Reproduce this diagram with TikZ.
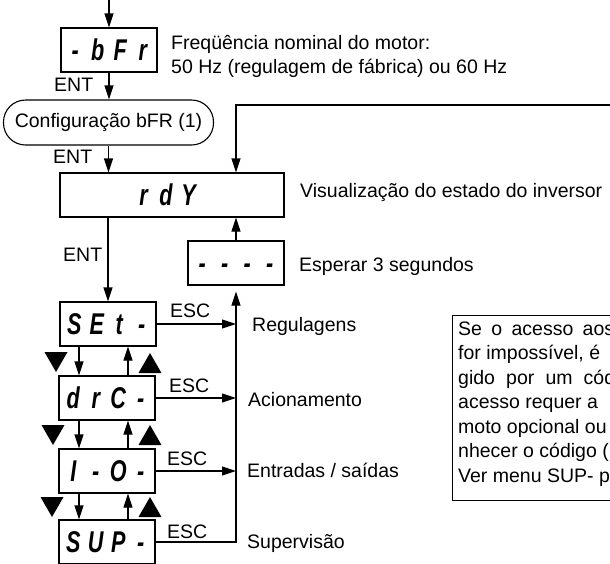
\documentclass[tikz,border=0pt]{standalone}
\usepackage{fontspec}
\setmainfont{Liberation Sans}
\usetikzlibrary{arrows.meta,calc}
\newcommand{\lblfont}{\fontsize{19.5}{24.5}\selectfont}
\newcommand{\segc}[1]{\makebox[22.5pt]{\scalebox{0.72}[1]{#1}}}
\tikzset{
  ln/.style={line width=1.1pt},
  disp/.style={draw, ln, minimum height=44pt, inner sep=0pt, text height=21pt, text depth=0pt,
    font=\fontsize{30}{30}\selectfont\bfseries\itshape},
  cfgbox/.style={draw, ln, rounded corners=22pt, minimum width=210pt, minimum height=45pt, inner sep=0pt, font=\lblfont},
  lbl/.style={anchor=base west, inner sep=0pt, font=\lblfont},
  arr/.style={ln, -{Triangle[length=14pt,width=9pt]}},
  dnkey/.pic={\fill (-11.5,-10) -- (11.5,-10) -- (0,10) -- cycle;},
  upkey/.pic={\fill (-11.5,10) -- (11.5,10) -- (0,-10) -- cycle;},
}
\begin{document}
\begin{tikzpicture}[x=1pt,y=-1pt]
\useasboundingbox (0,0) rectangle (610,563);
\clip (0,0) rectangle (610,563);

% display boxes
\node[disp, minimum width=96pt]  (bfr)  at (109,50)  {\segc{-}\segc{b}\segc{F}\segc{r}};
\node[cfgbox]                    (cfg)  at (108.5,122.5) {Configuração bFR (1)};
\node[disp, minimum width=224pt] (rdy)  at (172,195) {};
\node[disp, draw=none, minimum height=0pt] (rdyT) at (166,195) {\segc{r}\segc{d}\segc{Y}};
\node[disp, minimum width=96pt]  (dash) at (236,263) {\segc{-}\segc{-}\segc{-}\segc{-}};
\node[disp, minimum width=96pt]  (set)  at (108,324) {\segc{S}\segc{E}\segc{t}\segc{-}};
\node[disp, minimum width=96pt]  (drc)  at (107,398) {\segc{d}\segc{r}\segc{C}\segc{-}};
\node[disp, minimum width=96pt]  (io)   at (107,471) {\segc{I}\segc{-}\segc{O}\segc{-}};
\node[disp, minimum width=96pt]  (sup)  at (107,542) {\segc{S}\segc{U}\segc{P}\segc{-}};

% helper coordinates
\coordinate (top)   at (109,-5);
\coordinate (loopR) at (640,105);
\coordinate (dnx)   at (79,0);
\coordinate (upx)   at (128,0);
\coordinate (colTop) at ($(dash.south)+(0,6)$);

% main flow
\draw[arr] (top) -- (bfr.north);
\draw[arr] (bfr.south) -- (bfr.south |- cfg.north);
\draw[arr] (cfg.south) -- (cfg.south |- rdy.north);
\draw[arr] (set.north |- rdy.south) -- (set.north);
\draw[arr] (dash.north) -- (dash.north |- rdy.south);
\draw[arr] (loopR) -| (dash.north |- rdy.north);

% up/down between menus
\draw[arr] (dnx |- set.south) -- (dnx |- drc.north);
\draw[arr] (upx |- drc.north) -- (upx |- set.south);
\draw[arr] (dnx |- drc.south) -- (dnx |- io.north);
\draw[arr] (upx |- io.north) -- (upx |- drc.south);
\draw[arr] (dnx |- io.south) -- (dnx |- sup.north);
\draw[arr] (upx |- sup.north) -- (upx |- io.south);

% ESC connectors
\draw[arr] (set.east) -- (set.east -| colTop);
\draw[arr] (drc.east) -- (drc.east -| colTop);
\draw[arr] (io.east) -- (io.east -| colTop);
\draw[arr] (sup.east) -| (colTop);

% key triangles
\pic at (56,362) {dnkey};
\pic at (150,363) {upkey};
\pic at (53,435) {dnkey};
\pic at (150,435) {upkey};
\pic at (52,507) {dnkey};
\pic at (150,507) {upkey};

% labels
\node[lbl] (fq1) at (171,49) {Freqüência nominal do motor:};
\node[lbl] (fq2) at (171,73) {50 Hz (regulagem de fábrica) ou 60 Hz};
\node[lbl] (ent1) at (54,91) {ENT};
\node[lbl] (ent2) at (53,163) {ENT};
\node[lbl] (ent3) at (63,261) {ENT};
\node[lbl] (vis) at (300,197) {Visualização do estado do inversor};
\node[lbl] (esp) at (299,271) {Esperar 3 segundos};
\node[lbl] (esc1) at (170,317) {ESC};
\node[lbl] (esc2) at (169,392) {ESC};
\node[lbl] (esc3) at (167,465) {ESC};
\node[lbl] (esc4) at (167,538) {ESC};
\node[lbl] (reg) at (252,331) {Regulagens};
\node[lbl] (aci) at (248,406) {Acionamento};
\node[lbl] (ent) at (247,477) {Entradas / saídas};
\node[lbl] (spv) at (247,548) {Supervisão};

% note box
\node[draw, ln, anchor=north west, minimum width=300pt, minimum height=185pt, inner sep=0pt] (note) at (452,315) {};
\node[lbl] (n1) at (458,335) {\makebox[156pt][s]{Se o acesso aos}};
\node[lbl] (n2) at (458,359.5) {for impossível, é};
\node[lbl] (n3) at (458,384) {\makebox[157pt][s]{gido por um cód}};
\node[lbl] (n4) at (458,408.5) {acesso requer a};
\node[lbl] (n5) at (458,433) {moto opcional ou};
\node[lbl] (n6) at (458,457.5) {nhecer o código (};
\node[lbl] (n7) at (458,482) {Ver menu SUP- p};
\end{tikzpicture}
\end{document}
